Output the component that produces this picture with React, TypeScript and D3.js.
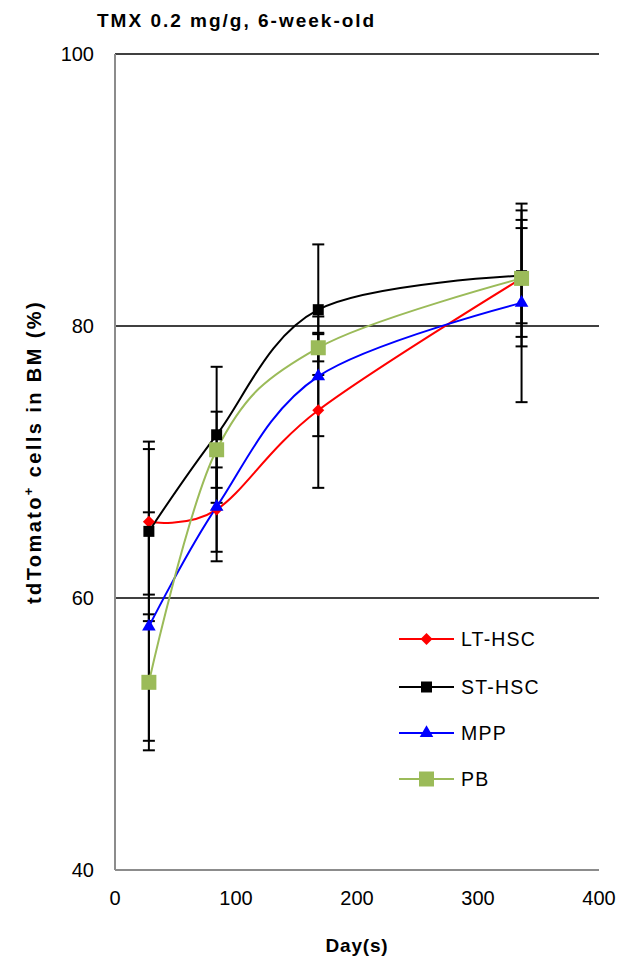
import React from "react";
import { select, scaleLinear, line, curveCardinal, symbol, symbolSquare, symbolTriangle } from "d3";

// sampling days
const days = [28, 84, 168, 336];

// % tdTomato+ cells
const ltHsc = [65.6, 66.5, 73.8, 83.5];
const stHsc = [64.9, 72.0, 81.2, 83.7];
const mpp = [57.9, 66.7, 76.3, 81.7];
const pb = [53.8, 70.9, 78.4, 83.5];

// error bar half widths
const ltHscErr = [5.35, 3.1, 5.7, 5.0];
const stHscErr = [6.6, 5.0, 4.8, 3.5];
const mppErr = [8.4, 4.0, 4.4, 7.3];
const pbErr = [5.0, 2.8, 1.0, 4.3];

const seriesNames = ["LT-HSC", "ST-HSC", "MPP", "PB"];
const yTicks = [40, 60, 80, 100];
const xTicks = [0, 100, 200, 300, 400];

const FONT = "'Liberation Sans', Arial, sans-serif";

export default function App() {
  const svgRef = React.useRef(null);

  React.useEffect(() => {
    const svg = select(svgRef.current);
    svg.selectAll("*").remove();

    const x = scaleLinear().domain([0, 400]).range([115, 599]);
    const y = scaleLinear().domain([40, 100]).range([870, 54]);

    // diamond = square turned 45deg (Excel style)
    const series = [
      { name: seriesNames[0], values: ltHsc, err: ltHscErr, color: "#ff0000", shape: symbolSquare, size: 72, rot: 45 },
      { name: seriesNames[1], values: stHsc, err: stHscErr, color: "#000000", shape: symbolSquare, size: 121, rot: 0 },
      { name: seriesNames[2], values: mpp, err: mppErr, color: "#0000ff", shape: symbolTriangle, size: 80, rot: 0 },
      { name: seriesNames[3], values: pb, err: pbErr, color: "#9bbb59", shape: symbolSquare, size: 225, rot: 0 }
    ];

    // gridlines
    svg
      .selectAll(".grid")
      .data(yTicks.filter(t => t > 40))
      .join("line")
      .attr("x1", x(0))
      .attr("x2", x(400))
      .attr("y1", d => y(d))
      .attr("y2", d => y(d))
      .attr("stroke", "#000")
      .attr("stroke-width", 1.5);

    // axis lines
    svg.append("line")
      .attr("x1", x(0)).attr("x2", x(0))
      .attr("y1", y(100)).attr("y2", y(40))
      .attr("stroke", "#8c8c8c").attr("stroke-width", 2);
    svg.append("line")
      .attr("x1", x(0)).attr("x2", x(400))
      .attr("y1", y(40)).attr("y2", y(40))
      .attr("stroke", "#8c8c8c").attr("stroke-width", 2);

    // tick labels
    svg.selectAll(".ytick")
      .data(yTicks)
      .join("text")
      .attr("x", 94)
      .attr("y", d => y(d))
      .attr("dy", "0.35em")
      .attr("text-anchor", "end")
      .attr("font-family", FONT)
      .attr("font-size", 20)
      .text(d => d);
    svg.selectAll(".xtick")
      .data(xTicks)
      .join("text")
      .attr("x", d => x(d))
      .attr("y", 898)
      .attr("dy", "0.35em")
      .attr("text-anchor", "middle")
      .attr("font-family", FONT)
      .attr("font-size", 20)
      .text(d => d);

    // error bars
    series.forEach(s => {
      const g = svg.append("g").attr("stroke", "#000").attr("stroke-width", 2);
      s.values.forEach((v, i) => {
        const cx = x(days[i]);
        const top = y(v + s.err[i]);
        const bot = y(v - s.err[i]);
        g.append("line").attr("x1", cx).attr("x2", cx).attr("y1", top).attr("y2", bot);
        g.append("line").attr("x1", cx - 6).attr("x2", cx + 6).attr("y1", top).attr("y2", top);
        g.append("line").attr("x1", cx - 6).attr("x2", cx + 6).attr("y1", bot).attr("y2", bot);
      });
    });

    // smoothed lines
    const path = line<number>()
      .x((v, i) => x(days[i]))
      .y(v => y(v))
      .curve(curveCardinal.tension(0));
    series.forEach(s => {
      svg.append("path")
        .attr("d", path(s.values))
        .attr("fill", "none")
        .attr("stroke", s.color)
        .attr("stroke-width", 2);
    });

    // markers
    series.forEach(s => {
      svg.append("g")
        .selectAll("path")
        .data(s.values)
        .join("path")
        .attr("transform", (v, i) => `translate(${x(days[i])},${y(v)}) rotate(${s.rot})`)
        .attr("d", symbol().type(s.shape).size(s.size)())
        .attr("fill", s.color);
    });

    // legend
    const legendY = [639, 687, 733, 779];
    series.forEach((s, i) => {
      const g = svg.append("g").attr("transform", `translate(0,${legendY[i]})`);
      g.append("line").attr("x1", 399).attr("x2", 454).attr("y1", 0).attr("y2", 0)
        .attr("stroke", s.color).attr("stroke-width", 2);
      g.append("path")
        .attr("transform", `translate(426.5,0) rotate(${s.rot})`)
        .attr("d", symbol().type(s.shape).size(s.size)())
        .attr("fill", s.color);
      g.append("text")
        .attr("x", 461).attr("y", 0).attr("dy", "0.35em")
        .attr("font-family", FONT).attr("font-size", 19.5)
        .attr("letter-spacing", 1.2)
        .text(s.name);
    });

    // titles
    svg.append("text")
      .attr("x", 97).attr("y", 27)
      .attr("font-family", FONT).attr("font-size", 19).attr("font-weight", "bold")
      .attr("letter-spacing", 2)
      .text("TMX 0.2 mg/g, 6-week-old");
    svg.append("text")
      .attr("x", 357).attr("y", 945).attr("dy", "0.35em")
      .attr("text-anchor", "middle")
      .attr("font-family", FONT).attr("font-size", 19).attr("font-weight", "bold")
      .attr("letter-spacing", 0.8)
      .text("Day(s)");
    const yt = svg.append("text")
      .attr("transform", "translate(41,452) rotate(-90)")
      .attr("text-anchor", "middle")
      .attr("font-family", FONT).attr("font-size", 20).attr("font-weight", "bold")
      .attr("letter-spacing", 2.4);
    yt.append("tspan").text("tdTomato");
    yt.append("tspan").attr("dy", -8).attr("font-size", 13).text("+");
    yt.append("tspan").attr("dy", 8).text(" cells in BM (%)");
  }, []);

  return (
    <svg
      ref={svgRef}
      width={617}
      height={960}
      style={{ position: "absolute", left: 0, top: 0, background: "#fff" }}
    />
  );
}
